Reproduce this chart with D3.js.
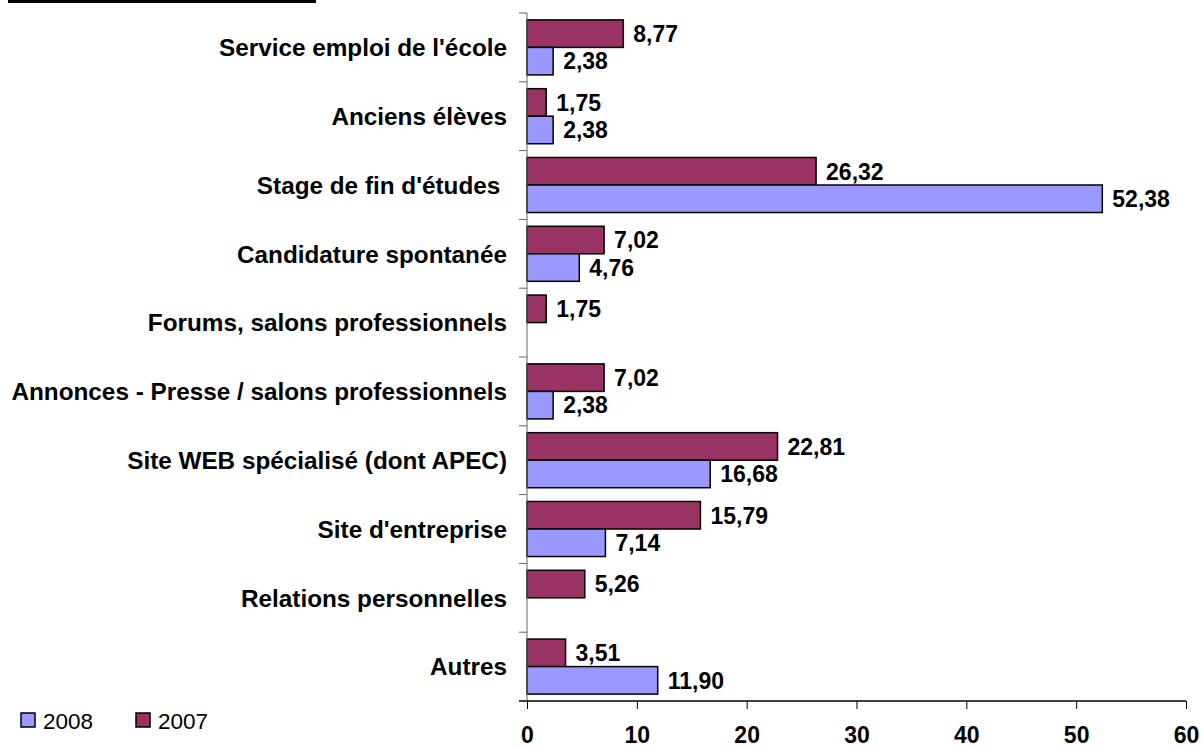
<!DOCTYPE html>
<html>
<head>
<meta charset="utf-8">
<script src="https://cdn.jsdelivr.net/npm/d3@7"></script>
<style>
  body { margin: 0; background: #fff; }
  svg text { font-family: "Liberation Sans", Arial, sans-serif; }
</style>
</head>
<body>
<div class="chart"></div>
<script>
var svgWidth = 1201;
var svgHeight = 747;

// data, top to bottom
var categories = [
  "Service emploi de l'école",
  "Anciens élèves",
  "Stage de fin d'études ",
  "Candidature spontanée",
  "Forums, salons professionnels",
  "Annonces - Presse / salons professionnels",
  "Site WEB spécialisé (dont APEC)",
  "Site d'entreprise",
  "Relations personnelles",
  "Autres"
];
var values2007 = [8.77, 1.75, 26.32, 7.02, 1.75, 7.02, 22.81, 15.79, 5.26, 3.51];
var values2008 = [2.38, 2.38, 52.38, 4.76, null, 2.38, 16.68, 7.14, null, 11.90];
var xTicks = [0, 10, 20, 30, 40, 50, 60];

var series = [
  { name: "2007", values: values2007, color: "#993366" },
  { name: "2008", values: values2008, color: "#9999FF" }
];

var plot = { left: 527, right: 1186, top: 13, bottom: 701 };

var svg = d3.select(".chart")
  .append("svg")
  .attr("width", svgWidth)
  .attr("height", svgHeight);

// black rule at top left
svg.append("rect")
  .attr("x", 8).attr("y", 0)
  .attr("width", 308).attr("height", 3)
  .attr("fill", "#000");

var x = d3.scaleLinear().domain([0, 60]).range([plot.left, plot.right]);
var y = d3.scaleBand().domain(categories).range([plot.top, plot.bottom]).paddingInner(0).paddingOuter(0);
var inner = d3.scaleBand().domain(["2007", "2008"]).range([0, y.bandwidth()]).paddingInner(0).paddingOuter(0.25);

var fmt = function(v) { return d3.format(".2f")(v).replace(".", ","); };

// bars
series.forEach(function(s) {
  var g = svg.append("g");
  categories.forEach(function(c, i) {
    var v = s.values[i];
    if (v == null) return;
    var y0 = y(c) + inner(s.name);
    g.append("rect")
      .attr("x", x(0))
      .attr("y", y0)
      .attr("width", x(v) - x(0))
      .attr("height", inner.bandwidth())
      .attr("fill", s.color)
      .attr("stroke", "#000")
      .attr("stroke-width", 1.5);
    g.append("text")
      .attr("x", x(v) + 10)
      .attr("y", y0 + inner.bandwidth() / 2)
      .attr("dy", "0.36em")
      .style("font-size", "23px")
      .style("font-weight", "bold")
      .text(fmt(v));
  });
});

// y axis
var yAxis = svg.append("g")
  .attr("transform", `translate(${plot.left},0)`);
yAxis.append("line")
  .attr("x1", 0).attr("x2", 0)
  .attr("y1", plot.top).attr("y2", plot.bottom)
  .attr("stroke", "#666").attr("stroke-width", 1);
var bounds = categories.map(function(c) { return y(c); });
yAxis.selectAll("line.tick")
  .data(bounds)
  .enter().append("line")
  .attr("class", "tick")
  .attr("x1", -8).attr("x2", 0)
  .attr("y1", d => d).attr("y2", d => d)
  .attr("stroke", "#666");
yAxis.selectAll("text")
  .data(categories)
  .enter().append("text")
  .attr("x", -20)
  .attr("y", d => y(d) + y.bandwidth() / 2)
  .attr("dy", "0.36em")
  .attr("text-anchor", "end")
  .style("white-space", "pre")
  .style("font-size", "24.3px")
  .style("font-weight", "bold")
  .text(d => d);

// x axis, labels close to the bottom edge as in the original
var xAxis = svg.append("g")
  .attr("transform", `translate(0,${plot.bottom})`)
  .call(d3.axisBottom(x).tickValues(xTicks).tickSize(8).tickPadding(0).tickFormat(d3.format("d")));
xAxis.select(".domain").remove();
xAxis.append("line")
  .attr("x1", plot.left - 8).attr("x2", plot.right)
  .attr("y1", 0).attr("y2", 0)
  .attr("stroke", "#000").attr("stroke-width", 1.5);
xAxis.selectAll(".tick line").attr("stroke", "#000");
xAxis.selectAll(".tick text")
  .attr("y", 42)
  .attr("dy", null)
  .attr("fill", "#000")
  .style("font-family", "'Liberation Sans', Arial, sans-serif")
  .style("font-size", "23px")
  .style("font-weight", "bold");

// legend
var legendItems = [
  { name: "2008", color: "#9999FF", x: 21 },
  { name: "2007", color: "#993366", x: 136 }
];
var legend = svg.append("g");
legendItems.forEach(function(d) {
  legend.append("rect")
    .attr("x", d.x).attr("y", 713)
    .attr("width", 14).attr("height", 14)
    .attr("fill", d.color)
    .attr("stroke", "#000").attr("stroke-width", 1.5);
  legend.append("text")
    .attr("x", d.x + 22).attr("y", 720.5)
    .attr("dy", "0.36em")
    .style("font-size", "22.5px")
    .text(d.name);
});
</script>
</body>
</html>
